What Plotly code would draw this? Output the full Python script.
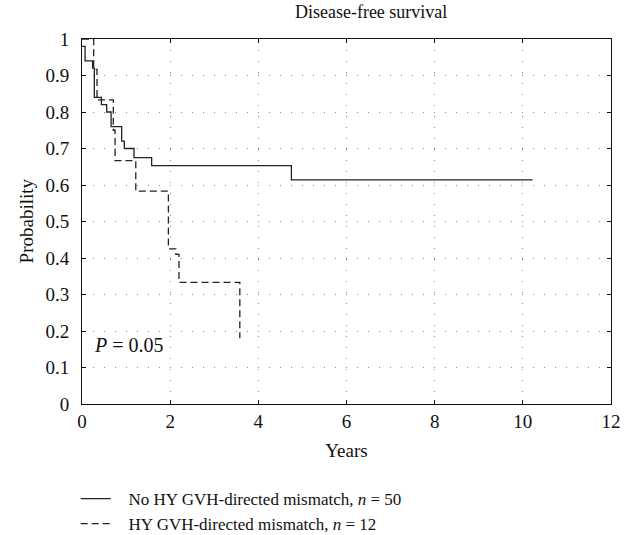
import plotly.graph_objects as go

# Data
solid_times = [0, 0.07, 0.24, 0.28, 0.44, 0.56, 0.66, 0.90, 0.96, 1.18, 1.58, 4.75, 10.22]
solid_probs = [0.98, 0.94, 0.92, 0.84, 0.82, 0.80, 0.76, 0.72, 0.70, 0.675, 0.653, 0.614, 0.614]

dashed_times = [0, 0.265, 0.34, 0.71, 0.75, 1.22, 1.96, 2.13, 2.20, 3.58]
dashed_probs = [1.0, 0.917, 0.833, 0.75, 0.667, 0.583, 0.425, 0.41, 0.333, 0.18]

series_names = ["No HY GVH-directed mismatch, <i>n</i> = 50",
                "HY GVH-directed mismatch, <i>n</i> = 12"]
x_ticks = [0, 2, 4, 6, 8, 10, 12]
y_ticks = [0, 0.1, 0.2, 0.3, 0.4, 0.5, 0.6, 0.7, 0.8, 0.9, 1]
y_tick_labels = ["0", "0.1", "0.2", "0.3", "0.4", "0.5", "0.6", "0.7", "0.8", "0.9", "1"]

FONT = "Liberation Serif"

fig = go.Figure()
fig.add_trace(go.Scatter(x=solid_times, y=solid_probs, mode="lines", line_shape="hv",
                         line=dict(color="#222222", width=1.3),
                         name="&nbsp;&nbsp;&nbsp;" + series_names[0]))
fig.add_trace(go.Scatter(x=dashed_times, y=dashed_probs, mode="lines", line_shape="hv",
                         line=dict(color="#222222", width=1.3, dash="7px,4px"),
                         name="&nbsp;&nbsp;&nbsp;" + series_names[1]))

fig.add_annotation(x=0.22, y=0.162, xref="x", yref="y", xanchor="left", yanchor="middle",
                   text="<i>P</i> = 0.05", showarrow=False, font=dict(family=FONT, size=20, color="#111"))
fig.add_annotation(x=-0.1059, y=0.503, xref="paper", yref="paper", xanchor="center", yanchor="middle",
                   text="Probability", textangle=-90, showarrow=False,
                   font=dict(family=FONT, size=19, color="#111"))

fig.update_layout(
    width=633, height=535,
    margin=dict(l=82, r=22, t=39, b=131, autoexpand=False),
    paper_bgcolor="white", plot_bgcolor="white",
    font=dict(family=FONT, size=19, color="#111"),
    title=dict(text="Disease-free survival", x=0.5466, xanchor="center", xref="paper",
               y=1 - 12 / 535, yref="container", yanchor="middle", font=dict(size=18)),
    showlegend=True,
    legend=dict(x=0.1196, y=1 - 481 / 535, xref="container", yref="container",
                xanchor="left", yanchor="top", orientation="v",
                font=dict(size=17), bgcolor="rgba(0,0,0,0)", tracegroupgap=0,
                borderwidth=0),
)
fig.update_xaxes(range=[0, 12], tickvals=x_ticks, ticks="inside", ticklen=4, tickcolor="#111",
                 showline=True, linecolor="#111", linewidth=1, mirror="ticks",
                 showgrid=True, gridcolor="#888", griddash="1px,10px", gridwidth=1,
                 zeroline=False, title=dict(text="Years", standoff=12, font=dict(size=19)))
fig.update_yaxes(range=[0, 1], tickvals=y_ticks, ticktext=y_tick_labels, ticks="inside", ticklen=4,
                 tickcolor="#111", showline=True, linecolor="#111", linewidth=1, mirror="ticks",
                 showgrid=True, gridcolor="#888", griddash="1px,10px", gridwidth=1,
                 zeroline=False, ticklabelstandoff=8)

fig.write_html("out.html")
